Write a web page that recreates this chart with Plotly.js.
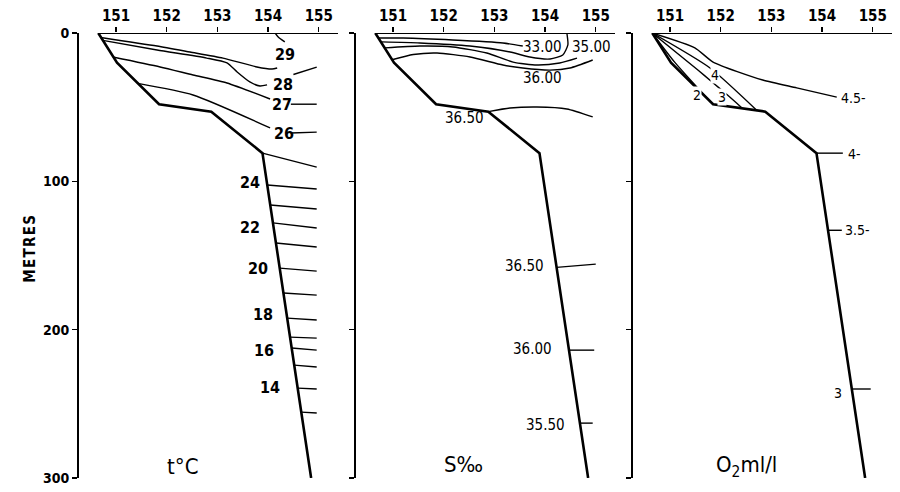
<!DOCTYPE html>
<html>
<head>
<meta charset="utf-8">
<script src="https://cdn.plot.ly/plotly-3.0.1.min.js"></script>
<style>
  html, body { margin: 0; padding: 0; background: #fff; }
  #chart { width: 900px; height: 492px; }
</style>
</head>
<body>
<div id="chart"></div>
<script>
// ===============================================
// DATA (longitude °E, depth m)
// ===============================================
const lonTicks = [151, 152, 153, 154, 155];
const depthTicks = [0, 100, 200, 300];

// sea bed profile, same in the three sections
const bedLon   = [150.65, 151.02, 151.85, 152.88, 153.89, 154.85];
const bedDepth = [0, 20, 48, 53, 81, 300];

// --- temperature, upper isotherms (split where the label sits)
const t29Lon = [150.70, 151.81, 152.46, 153.11, 153.78, 154.08, 154.18];
const t29Dep = [3, 8.8, 12.8, 16.9, 22.9, 24.3, 23.6];
const t29bLon = [154.33, 154.20, 154.14];
const t29bDep = [6, 2.7, 0];
const t28Lon = [150.74, 151.81, 152.79, 153.19, 153.39, 153.64, 153.84, 153.98];
const t28Dep = [5, 11.5, 16.9, 20.2, 26.3, 33, 35.7, 35];
const t28bLon = [154.50, 154.96];
const t28bDep = [28, 23];
const t27Lon = [150.94, 151.87, 152.52, 153.19, 154.04];
const t27Dep = [16.2, 22.9, 28.3, 33.7, 44.5];
const t27bLon = [154.45, 154.96];
const t27bDep = [48, 48];
const t26Lon = [151.43, 152.52, 154.04];
const t26Dep = [34, 41.8, 64];
const t26bLon = [154.45, 154.96];
const t26bDep = [67.4, 66.8];

// --- temperature, isotherms leaving the slope (25 .. 13 °C)
const deepTStart = [81, 102.5, 116, 128, 141.6, 158.5, 175.3, 192.2, 205, 212.4, 223.9, 239.4, 255.6];
const deepTEnd   = [90.4, 105.2, 118.7, 131.5, 144.3, 160.5, 176.7, 193.5, 205.7, 213.8, 225.2, 240, 256.2];
const deepTEndLon = 154.96;

const tLabels   = ["29", "28", "27", "26", "24", "22", "20", "18", "16", "14"];
const tLabelLon = [154.33, 154.29, 154.27, 154.31, 153.64, 153.64, 153.80, 153.90, 153.92, 154.04];
const tLabelDep = [14.2, 35, 48, 68, 100.5, 130.8, 158.5, 190, 213.8, 238.7];

// --- salinity
const sALon = [150.71, 151.20, 152.18, 153.17, 153.56];
const sADep = [3.4, 3.4, 4.7, 6.7, 8.8];
const sBLon = [150.78, 151.53, 152.52, 153.31, 153.70, 154.10, 154.35, 154.45, 154.43];
const sBDep = [6, 6.7, 8.8, 12.8, 16.2, 17.5, 14.8, 8, 0];
const sCLon = [150.84, 151.53, 152.18, 152.85, 153.37, 153.84, 154.29, 154.63];
const sCDep = [10, 8.8, 9.4, 13.5, 19.6, 21.6, 20.2, 16.9];
const sDLon = [150.98, 151.40, 151.87, 152.52, 153.17, 153.56, 154.10, 154.49, 154.94];
const sDDep = [18, 14.5, 13.5, 16.2, 21.6, 23.6, 25, 23.6, 18.2];
const s365Lon = [152.88, 153.31, 153.84, 154.43, 154.94];
const s365Dep = [53, 50.6, 49.9, 51.2, 56.6];

const deepSStart  = [158, 213.8, 263];
const deepSEnd    = [155.8, 213.8, 263];
const deepSEndLon = [155.00, 154.97, 154.94];

const sLabels   = ["33.00", "35.00", "36.00", "36.50", "36.50", "36.00", "35.50"];
const sLabelLon = [153.94, 154.92, 153.94, 152.42, 153.60, 153.76, 154.00];
const sLabelDep = [9.4, 9.4, 30.3, 57.3, 157, 213, 264];

// --- oxygen
const o45Lon = [150.65, 151.49, 151.85, 152.83, 153.50, 154.29];
const o45Dep = [0, 10, 19.6, 31.7, 37, 43.2];
const o4Lon = [150.65, 151.79, 152.72];
const o4Dep = [0, 23.6, 52.4];
const o3Lon = [150.65, 151.55, 151.83, 152.14, 152.42];
const o3Dep = [0, 25, 33, 42, 50.5];
const o2Lon = [150.65, 151.10, 151.80];
const o2Dep = [0, 20, 46.5];
const o4bLon = [153.89, 154.41];
const o4bDep = [81, 81];
const o35Lon = [154.12, 154.39];
const o35Dep = [133, 133];
const o3bLon = [154.59, 154.96];
const o3bDep = [240, 240];

const oLabels   = ["4", "3", "2", "4.5-", "4-", "3.5-", "3"];
const oLabelLon = [151.89, 152.03, 151.53, 154.35, 154.49, 154.44, 154.31];
const oLabelDep = [28.3, 43, 42, 44, 81.6, 133, 243];
const oLabelAnchor = ["center", "center", "center", "left", "left", "left", "center"];

const panelTitles = ["t°C", "S‰", "O<sub>2</sub>ml/l"];
const titleLon = [152.32, 152.40, 152.50];
const titleDep = [292, 291, 292];

// ===============================================
// HELPERS
// ===============================================
const W = 900;
const lonRange = [150.27, 155.38];
const panelLeft = [79, 356, 633];
const axNames = [["x", "y"], ["x2", "y2"], ["x3", "y3"]];
const FONT = "DejaVu Sans Condensed, DejaVu Sans, sans-serif";
const NARROW = "Liberation Sans Narrow, DejaVu Sans Condensed, sans-serif";

function bedLonAt(d) {
    for (let i = 0; i < bedDepth.length - 1; i++) {
        if (d >= bedDepth[i] && d <= bedDepth[i + 1]) {
            const f = (d - bedDepth[i]) / (bedDepth[i + 1] - bedDepth[i]);
            return bedLon[i] + f * (bedLon[i + 1] - bedLon[i]);
        }
    }
    return bedLon[bedLon.length - 1];
}

function line(lon, dep, p, width) {
    return {
        x: lon, y: dep, xaxis: axNames[p][0], yaxis: axNames[p][1],
        type: "scatter", mode: "lines", hoverinfo: "skip",
        line: { color: "#000", width: width || 1.4, shape: "spline", smoothing: 0.6 }
    };
}

function label(text, lon, dep, p, opts) {
    opts = opts || {};
    return {
        text, x: lon, y: dep, xref: axNames[p][0], yref: axNames[p][1],
        showarrow: false, xanchor: opts.anchor || "center", yanchor: "middle",
        bgcolor: opts.bg || "rgba(0,0,0,0)", borderpad: 0,
        font: { family: opts.family || FONT, size: opts.size || 15, color: "#000", weight: opts.weight || "bold" }
    };
}

// ===============================================
// TRACES
// ===============================================
const traces = [];
const annotations = [];

for (let p = 0; p < 3; p++) {
    // sea surface and sea bed
    traces.push(line([bedLon[0], lonRange[1]], [0, 0], p, 2));
    const bed = line(bedLon, bedDepth, p, 2.6);
    bed.line.shape = "linear";
    traces.push(bed);
    annotations.push(label(panelTitles[p], titleLon[p], titleDep[p], p, { size: 22, weight: "normal" }));
}

// temperature
[[t29Lon, t29Dep], [t29bLon, t29bDep], [t28Lon, t28Dep], [t28bLon, t28bDep],
 [t27Lon, t27Dep], [t27bLon, t27bDep], [t26Lon, t26Dep], [t26bLon, t26bDep]]
    .forEach(([lo, de]) => traces.push(line(lo, de, 0)));
deepTStart.forEach((d, i) => {
    traces.push(line([bedLonAt(d), deepTEndLon], [d, deepTEnd[i]], 0));
});
tLabels.forEach((t, i) => annotations.push(label(t, tLabelLon[i], tLabelDep[i], 0, { size: 16 })));

// salinity
[[sALon, sADep], [sBLon, sBDep], [sCLon, sCDep], [sDLon, sDDep], [s365Lon, s365Dep]]
    .forEach(([lo, de]) => traces.push(line(lo, de, 1)));
deepSStart.forEach((d, i) => {
    traces.push(line([bedLonAt(d), deepSEndLon[i]], [d, deepSEnd[i]], 1));
});
sLabels.forEach((t, i) => annotations.push(
    label(t, sLabelLon[i], sLabelDep[i], 1, { size: 15, family: NARROW, weight: "normal" })));

// oxygen
[[o45Lon, o45Dep], [o4Lon, o4Dep], [o3Lon, o3Dep], [o2Lon, o2Dep],
 [o4bLon, o4bDep], [o35Lon, o35Dep], [o3bLon, o3bDep]]
    .forEach(([lo, de]) => traces.push(line(lo, de, 2)));
oLabels.forEach((t, i) => annotations.push(
    label(t, oLabelLon[i], oLabelDep[i], 2, {
        size: 14, family: NARROW, weight: "normal", anchor: oLabelAnchor[i],
        bg: i < 3 ? "#fff" : "rgba(0,0,0,0)"
    })));

// y title, letters spaced out a little like the original
annotations.push({
    text: "M\u200AE\u200AT\u200AR\u200AE\u200AS", xref: "paper", yref: "paper", x: 19 / W, y: 0.515,
    showarrow: false, textangle: -90,
    font: { family: FONT, size: 15, color: "#000", weight: "bold" }
});

// ===============================================
// LAYOUT
// ===============================================
const layout = {
    width: 900, height: 492,
    margin: { l: 0, r: 0, t: 33, b: 14 },
    paper_bgcolor: "#fff", plot_bgcolor: "#fff",
    showlegend: false,
    annotations
};

panelLeft.forEach((left, p) => {
    const sfx = p === 0 ? "" : String(p + 1);
    layout["xaxis" + sfx] = {
        domain: [left / W, (left + 259) / W], range: lonRange, anchor: "y" + sfx,
        side: "top", tickvals: lonTicks, ticks: "outside", ticklen: 5, tickwidth: 1.5,
        tickcolor: "#000", showline: false, showgrid: false, zeroline: false,
        tickfont: { family: FONT, size: 15, color: "#000", weight: "bold" }
    };
    layout["yaxis" + sfx] = {
        domain: [0, 1], range: [300, 0], anchor: "x" + sfx,
        tickvals: depthTicks, ticks: "outside", ticklen: 5, tickwidth: 1.5,
        tickcolor: "#000", showline: true, linewidth: 2, linecolor: "#000",
        showgrid: false, zeroline: false, showticklabels: p === 0,
        tickfont: { family: FONT, size: 14, color: "#000", weight: "bold" }
    };
});

Plotly.newPlot("chart", traces, layout, { displayModeBar: false, staticPlot: true });
</script>
</body>
</html>
